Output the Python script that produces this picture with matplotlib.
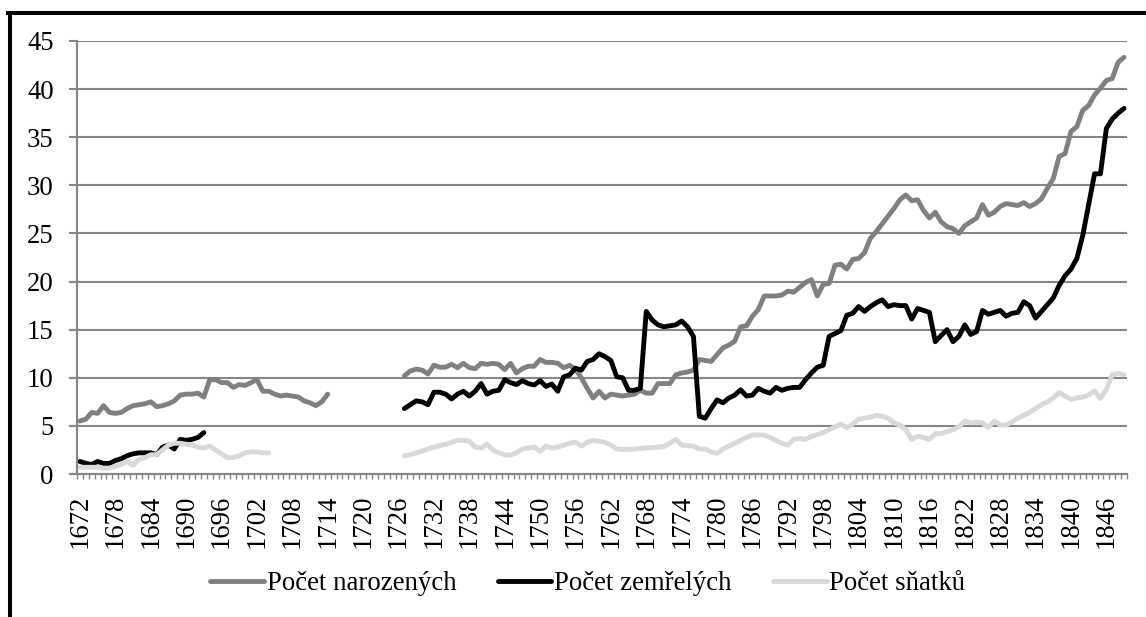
import matplotlib
matplotlib.use('Agg')
import matplotlib.pyplot as plt
import numpy as np
from matplotlib.lines import Line2D

# ---------------- data ----------------
years = list(range(1672, 1850))

# first segment (early records)
births_1 = [5.5, 5.7, 6.4, 6.3, 7.1, 6.4, 6.3, 6.4, 6.8, 7.1,
            7.2, 7.3, 7.5, 7.0, 7.1, 7.3, 7.6, 8.2, 8.3, 8.3,
            8.4, 8.0, 9.8, 9.8, 9.5, 9.5, 9.0, 9.3, 9.2, 9.5,
            9.8, 8.6, 8.6, 8.3, 8.1, 8.2, 8.1, 8.0, 7.6, 7.4,
            7.1, 7.5, 8.3]                      # 1672-1714
deaths_1 = [1.3, 1.1, 1.0, 1.3, 1.1, 1.1, 1.4, 1.6, 1.9, 2.1,
            2.2, 2.2, 2.2, 2.0, 2.8, 3.0, 2.6, 3.6, 3.5, 3.6,
            3.8, 4.3]                           # 1672-1693
marriages_1 = [0.7, 0.7, 0.7, 0.7, 0.6, 0.6, 0.8, 1.0, 1.3, 0.9,
               1.5, 1.7, 2.0, 2.0, 2.5, 3.0, 3.2, 3.2, 3.1, 3.0,
               2.8, 2.7, 2.9, 2.5, 2.1, 1.7, 1.7, 1.9, 2.2, 2.3,
               2.3, 2.2, 2.2]                   # 1672-1704

# second segment 1727-1849
births_2 = [10.2, 10.7, 10.9,
            10.8, 10.4, 11.3, 11.1, 11.1, 11.4, 11.05, 11.5, 11.05, 10.95,
            11.5, 11.4, 11.5, 11.4, 10.85, 11.5, 10.5, 10.95, 11.2, 11.2,
            11.9, 11.6, 11.6, 11.5, 11.05, 11.3, 10.9, 10.0, 8.9, 7.9,
            8.6, 7.9, 8.3, 8.2, 8.1, 8.2, 8.3, 8.7, 8.4, 8.4,
            9.4, 9.4, 9.4, 10.3, 10.5, 10.6, 10.8, 11.9, 11.8, 11.7,
            12.4, 13.1, 13.4, 13.8, 15.3, 15.4, 16.4, 17.1, 18.5, 18.5,
            18.5, 18.6, 19.0, 18.9, 19.4, 19.9, 20.2, 18.5, 19.7, 19.8,
            21.7, 21.8, 21.3, 22.3, 22.4, 23.0, 24.5, 25.2, 26.0, 26.8,
            27.6, 28.5, 29.0, 28.4, 28.5, 27.4, 26.6, 27.2, 26.2, 25.7,
            25.5, 25.0, 25.8, 26.2, 26.6, 28.0, 26.9, 27.2, 27.8, 28.1,
            28.0, 27.9, 28.2, 27.8, 28.1, 28.6, 29.7, 30.7, 33.0, 33.3,
            35.6, 36.1, 37.8, 38.3, 39.4, 40.1, 40.9, 41.1, 42.8, 43.3]
deaths_2 = [6.8, 7.2, 7.6,
            7.5, 7.2, 8.5, 8.5, 8.3, 7.8, 8.3, 8.6, 8.1, 8.6,
            9.4, 8.3, 8.6, 8.7, 9.8, 9.5, 9.3, 9.7, 9.4, 9.25,
            9.7, 9.1, 9.35, 8.6, 10.1, 10.3, 11.0, 10.8, 11.7, 11.9,
            12.5, 12.2, 11.8, 10.1, 10.0, 8.7, 8.7, 8.9, 16.9, 16.0,
            15.5, 15.3, 15.4, 15.5, 15.9, 15.3, 14.3, 6.0, 5.8, 6.8,
            7.7, 7.4, 7.9, 8.2, 8.75, 8.1, 8.2, 8.9, 8.6, 8.4,
            9.0, 8.7, 8.9, 9.0, 9.0, 9.8, 10.5, 11.1, 11.3, 14.3,
            14.6, 14.9, 16.5, 16.7, 17.4, 16.9, 17.4, 17.8, 18.1, 17.4,
            17.6, 17.5, 17.5, 16.1, 17.2, 17.0, 16.8, 13.75, 14.4, 15.0,
            13.75, 14.3, 15.5, 14.5, 14.8, 17.0, 16.6, 16.8, 17.0, 16.4,
            16.7, 16.8, 17.9, 17.5, 16.2, 16.9, 17.6, 18.3, 19.6, 20.6,
            21.3, 22.4, 24.8, 28.0, 31.2, 31.2, 35.9, 36.9, 37.5, 38.0]
marriages_2 = [1.9, 2.0, 2.2,
               2.4, 2.6, 2.8, 2.95, 3.1, 3.3, 3.5, 3.5, 3.4, 2.8,
               2.7, 3.1, 2.5, 2.2, 2.0, 1.95, 2.2, 2.6, 2.7, 2.8,
               2.35, 2.9, 2.7, 2.8, 3.0, 3.2, 3.3, 2.9, 3.3, 3.5,
               3.4, 3.3, 3.0, 2.6, 2.55, 2.55, 2.6, 2.65, 2.7, 2.75,
               2.8, 2.85, 3.2, 3.6, 3.0, 2.95, 2.9, 2.6, 2.6, 2.3,
               2.15, 2.6, 2.9, 3.2, 3.5, 3.8, 4.05, 4.05, 4.05, 3.8,
               3.5, 3.2, 3.0, 3.6, 3.7, 3.6, 3.9, 4.1, 4.3, 4.6,
               4.9, 5.2, 4.8, 5.2, 5.7, 5.8, 5.9, 6.1, 6.0, 5.8,
               5.3, 5.1, 4.6, 3.6, 3.9, 3.8, 3.6, 4.2, 4.2, 4.4,
               4.6, 4.9, 5.5, 5.3, 5.4, 5.3, 4.85, 5.5, 5.1, 5.1,
               5.4, 5.8, 6.1, 6.4, 6.8, 7.2, 7.5, 7.9, 8.45, 8.1,
               7.75, 7.9, 8.0, 8.2, 8.65, 7.85, 8.8, 10.3, 10.45, 10.3]

seg2_start = 1727
series_names = ["Počet narozených", "Počet zemřelých", "Počet sňatků"]
series_colors = ["#808080", "#000000", "#d9d9d9"]


def build(first, second):
    arr = np.full(len(years), np.nan)
    arr[:len(first)] = first
    s = years.index(seg2_start)
    arr[s:s + len(second)] = second
    return arr


births = build(births_1, births_2)
deaths = build(deaths_1, deaths_2)
marriages = build(marriages_1, marriages_2)

# ---------------- plot ----------------
plt.rcParams['font.family'] = ['Liberation Serif', 'DejaVu Serif']

W, H = 1146, 617
fig = plt.figure(figsize=(W / 100, H / 100), dpi=100)
ax = fig.add_axes([77 / W, 1 - 474 / H, (1127 - 77) / W, (474 - 41) / H])

xpos = np.arange(len(years))
handles = []
for vals, name, col in zip([births, deaths, marriages], series_names, series_colors):
    ln, = ax.plot(xpos, vals, color=col, lw=3.5, label=name,
                  solid_joinstyle='round', solid_capstyle='round')
    handles.append(ln)

ax.set_xlim(-0.5, len(years) - 0.5)
ax.set_ylim(0, 45)
ax.set_yticks(range(0, 46, 5))
ax.yaxis.grid(True, color='#868686', lw=1.5)
ax.set_axisbelow(True)

ax.set_xticks(xpos[::6])
ax.set_xticklabels([str(y) for y in years[::6]], rotation=90)
ax.set_xticks(np.arange(-0.5, len(years), 1), minor=True)

fs = 19.3
ax.tick_params(axis='x', which='major', length=0, pad=15, labelsize=fs)
ax.tick_params(axis='x', which='minor', length=3.8, width=1.0, color='#868686')
ax.tick_params(axis='y', which='major', length=5.8, width=1.5, color='#868686',
               pad=11, labelsize=fs)

for side in ['top', 'right']:
    ax.spines[side].set_visible(False)
for side in ['left', 'bottom']:
    ax.spines[side].set_color('#868686')
    ax.spines[side].set_linewidth(1.5)

fig.legend(handles=handles, loc='center', bbox_to_anchor=(0.513, 1 - 584 / H),
           ncol=3, frameon=False, handlelength=2.0, handletextpad=0.1,
           columnspacing=1.55, fontsize=fs)

# outer frame (top and left edges only, as in the reference)
fig.add_artist(Line2D([8 / W, 1.0], [1 - 13 / H, 1 - 13 / H],
                      transform=fig.transFigure, color='black', lw=2.9))
fig.add_artist(Line2D([10 / W, 10 / W], [0.0, 1 - 13 / H],
                      transform=fig.transFigure, color='black', lw=2.9))

fig.savefig('out.png', dpi=100)
